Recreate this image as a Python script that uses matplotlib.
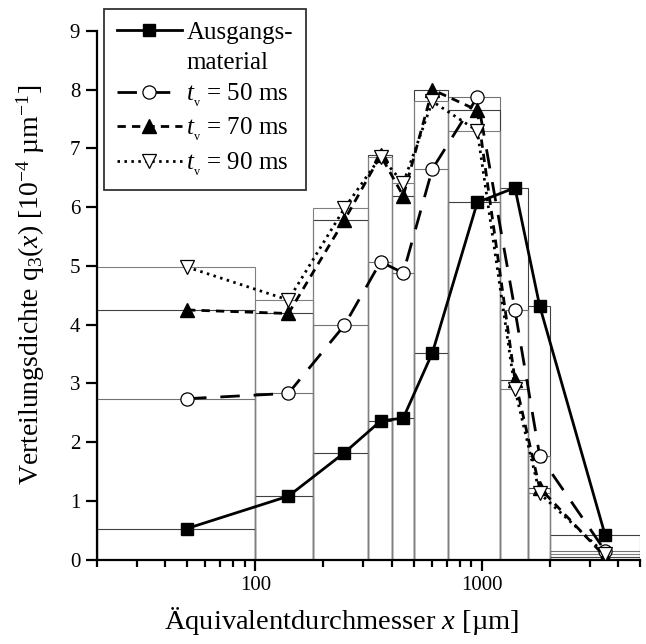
import matplotlib
matplotlib.use("Agg")
import matplotlib.pyplot as plt
from matplotlib.lines import Line2D
from matplotlib.ticker import LogLocator, FixedFormatter, FixedLocator, NullFormatter

# sieve classes [um] and class midpoints
bin_edges = [20, 100, 180, 315, 400, 500, 710, 1200, 1600, 2000, 5000]
x_mid = [50, 140, 247.5, 357.5, 450, 605, 955, 1400, 1800, 3500]

# q3(x) [1e-4 um^-1]
ausgang = [0.53, 1.08, 1.82, 2.36, 2.41, 3.52, 6.08, 6.33, 4.32, 0.42]
t50 = [2.74, 2.83, 3.99, 5.07, 4.88, 6.65, 7.87, 4.25, 1.77, 0.15]
t70 = [4.25, 4.19, 5.78, 6.88, 6.19, 8.00, 7.65, 3.06, 1.22, 0.05]
t90 = [4.98, 4.42, 5.98, 6.86, 6.41, 7.80, 7.30, 2.90, 1.13, 0.10]

labels = ["Ausgangs-", "material", r"$t_{_\mathrm{v}}$ = 50 ms",
          r"$t_{_\mathrm{v}}$ = 70 ms", r"$t_{_\mathrm{v}}$ = 90 ms"]

plt.rcParams["font.family"] = "Liberation Serif"
plt.rcParams["mathtext.fontset"] = "custom"
plt.rcParams["mathtext.rm"] = "Liberation Serif"
plt.rcParams["mathtext.it"] = "Liberation Serif:italic"

fig = plt.figure(figsize=(6.46, 6.44), dpi=100)
ax = fig.add_axes([0.150, 0.131, 0.841, 0.821])

widths = [b - a for a, b in zip(bin_edges[:-1], bin_edges[1:])]
for vals, col in [(ausgang, "0.25"), (t50, "0.45"), (t70, "0.25"), (t90, "0.5")]:
    ax.bar(bin_edges[:-1], vals, width=widths, align="edge", fill=False,
           edgecolor=col, linewidth=0.8, zorder=1)

h0, = ax.plot(x_mid, ausgang, "-", color="k", lw=2, marker="s", ms=9,
              mfc="k", mec="k", zorder=5)
h1, = ax.plot(x_mid, t50, color="k", lw=2, dashes=(7, 5), marker="o", ms=9.5,
              mfc="white", mec="k", mew=0.9, zorder=4)
h2, = ax.plot(x_mid, t70, color="k", lw=2, dashes=(3, 2.2), marker="^", ms=10.5,
              mfc="k", mec="k", zorder=4)
h3, = ax.plot(x_mid, t90, color="k", lw=2, dashes=(0.9, 1.6), marker="v", ms=10.5,
              mfc="white", mec="k", mew=0.9, zorder=4)
blank = Line2D([], [], linestyle="none", marker="none")

ax.set_xscale("log")
ax.set_xlim(20, 5000)
ax.set_ylim(0, 9)
ax.set_yticks(range(10))

ax.xaxis.set_major_locator(FixedLocator([100, 1000]))
ax.xaxis.set_major_formatter(FixedFormatter(["100", "1000"]))
ax.xaxis.set_minor_locator(LogLocator(base=10, subs=range(2, 10)))
ax.xaxis.set_minor_formatter(NullFormatter())

for s in ("top", "right"):
    ax.spines[s].set_visible(False)
for s in ("left", "bottom"):
    ax.spines[s].set_linewidth(1.6)

ax.tick_params(axis="both", which="major", direction="out", length=8, width=1.6,
               labelsize=15, pad=4)
ax.tick_params(axis="x", which="minor", direction="out", length=5, width=1.6)
ax.tick_params(axis="y", which="minor", left=False)

ax.set_xlabel(r"Äquivalentdurchmesser $x$ [µm]", fontsize=20.5)
ax.xaxis.set_label_coords(0.451, -0.085)
ax.set_ylabel(r"Verteilungsdichte q$_3$($x$) [10$^{-4}$ µm$^{-1}$]", fontsize=20)
ax.yaxis.set_label_coords(-0.092, 0.52)

leg = ax.legend([h0, blank, h1, h2, h3], labels,
                loc="upper left", bbox_to_anchor=(104 / 646, 1 - 9 / 644),
                bbox_transform=fig.transFigure, borderaxespad=0, fontsize=18,
                frameon=True, fancybox=False, edgecolor="k", handlelength=2.6,
                handletextpad=0.2, labelspacing=0.3, borderpad=0.5)
leg.get_frame().set_linewidth(1.3)
leg.set_zorder(10)

fig.savefig("out.png", dpi=100)
